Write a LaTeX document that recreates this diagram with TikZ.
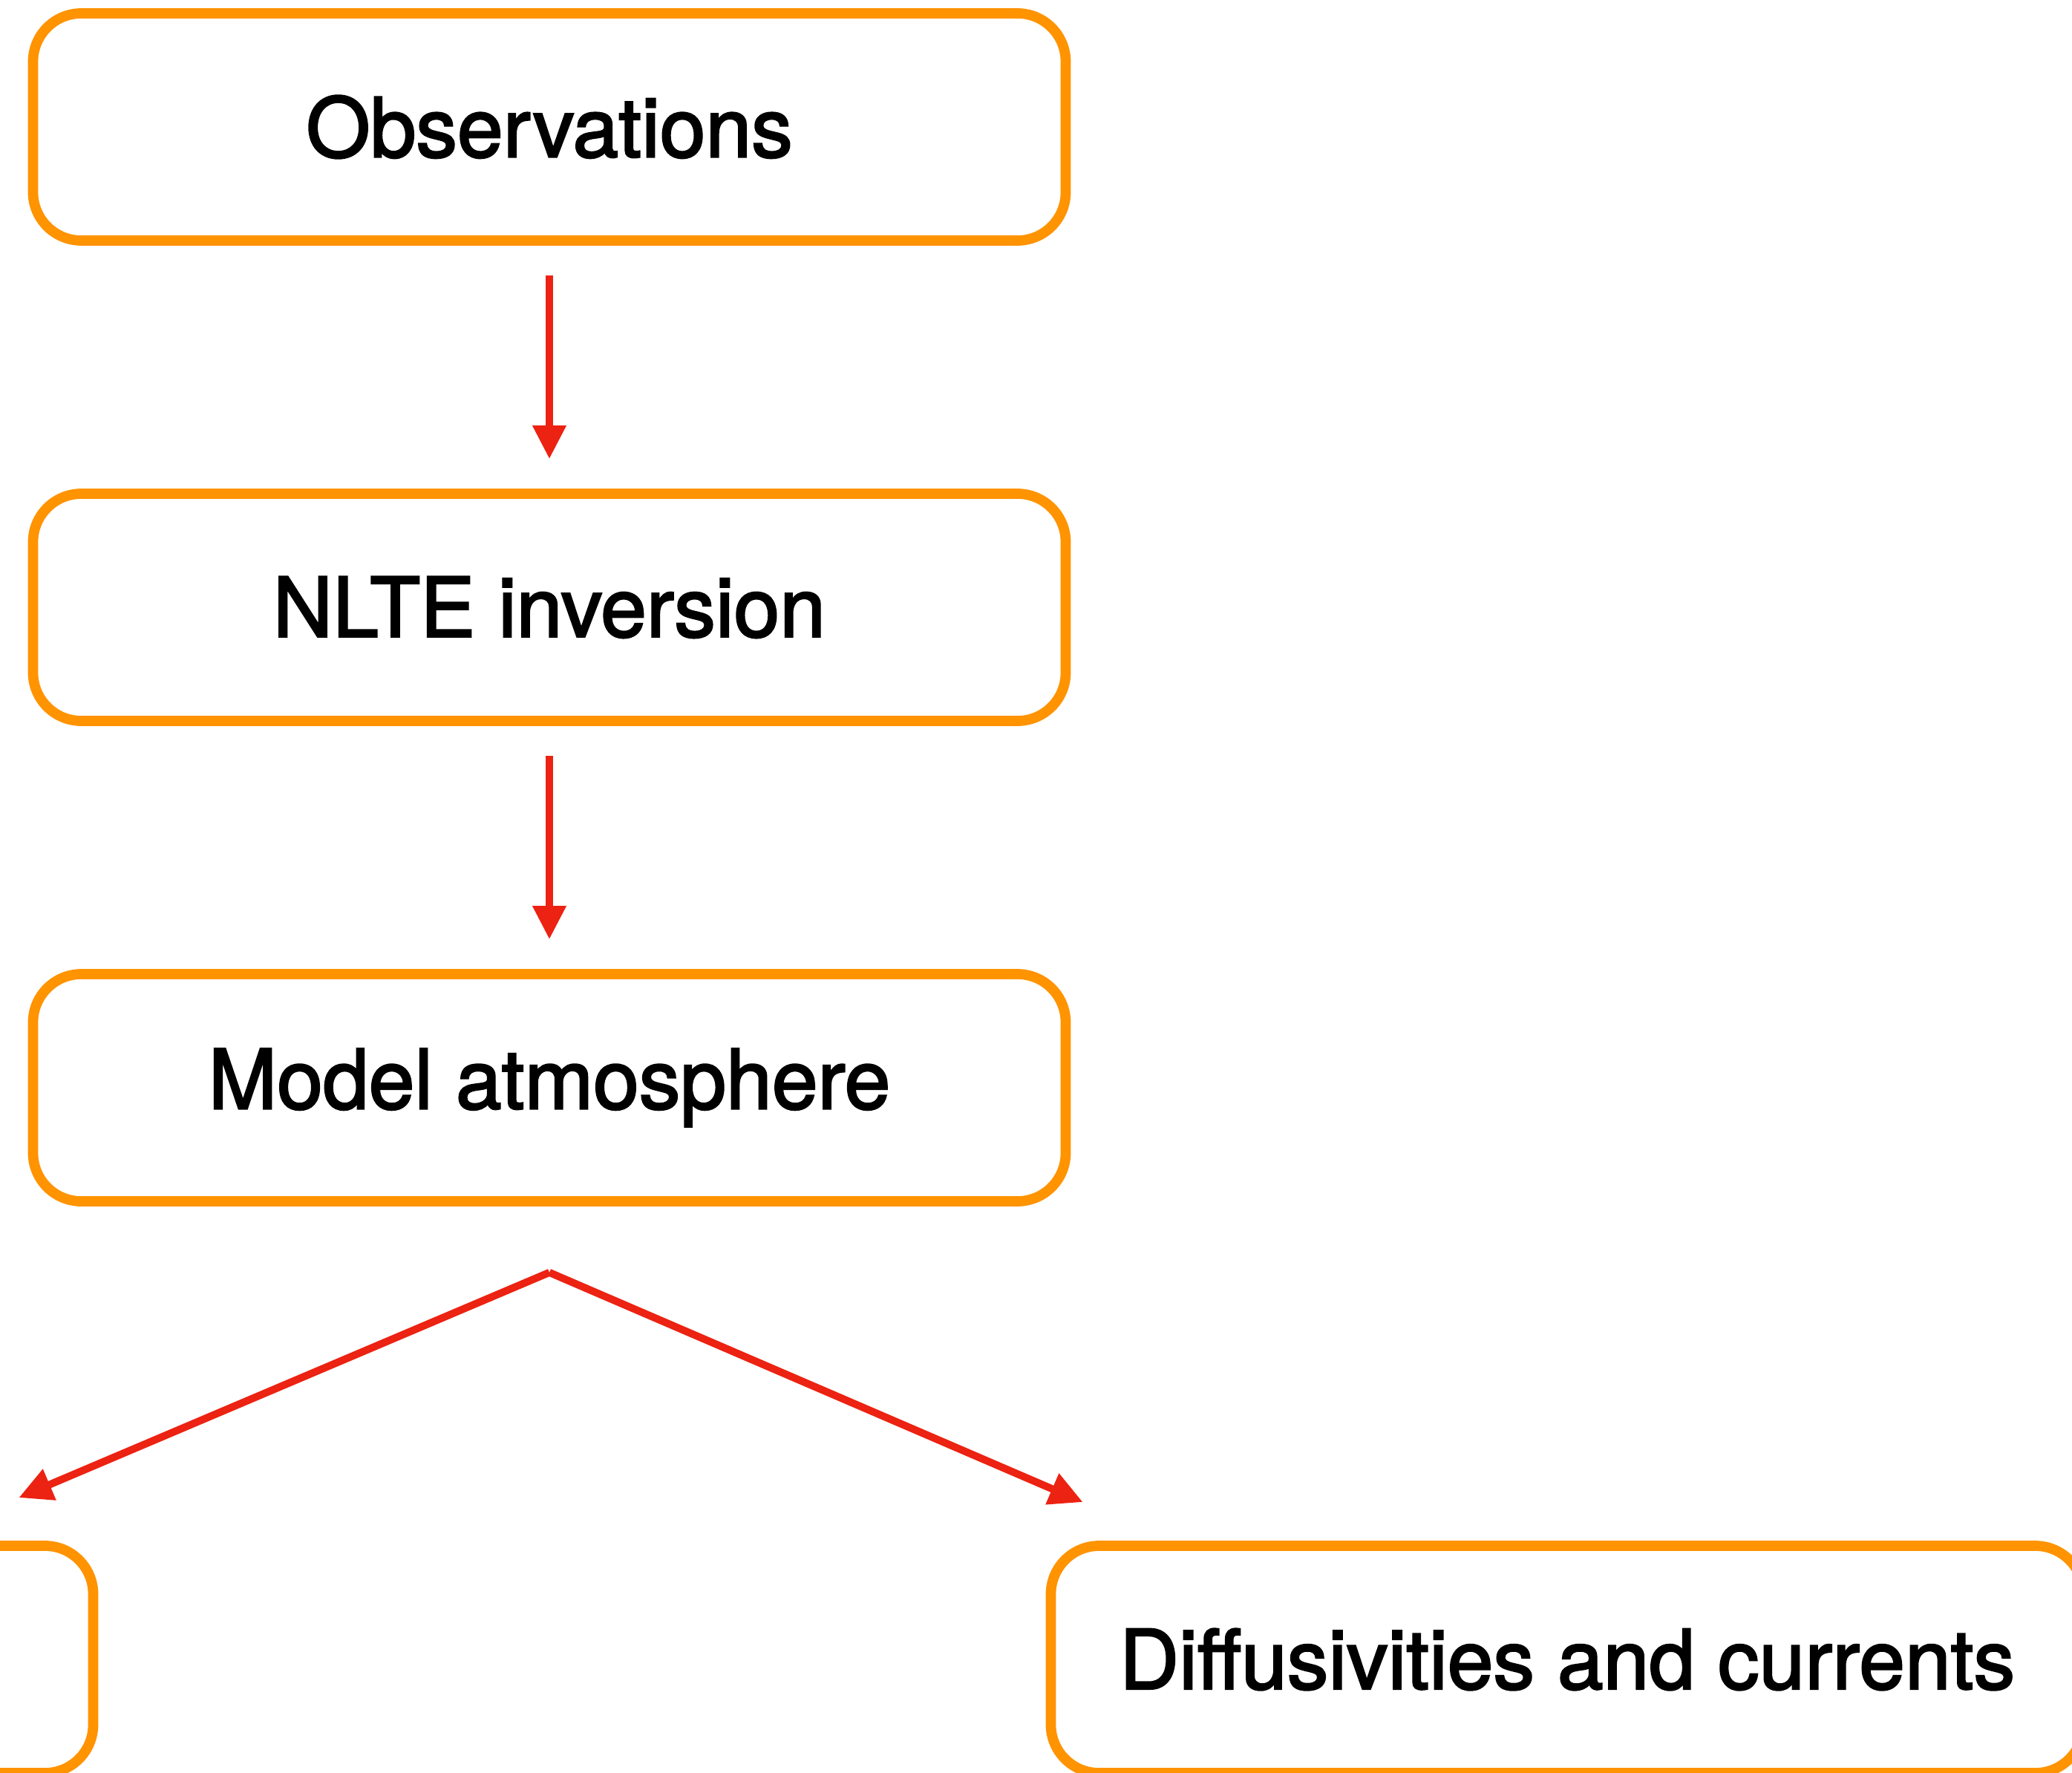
\documentclass[tikz,border=0pt]{standalone}
\usepackage{fontspec}
\setmainfont{TeX Gyre Heros}
\newfontfamily\stagefont[FakeBold=2.2]{TeX Gyre Heros}
\usepackage{tikz}
\usetikzlibrary{arrows.meta}
\definecolor{boxorange}{RGB}{255, 147, 0}
\definecolor{flowred}{RGB}{236, 34, 18}

\begin{document}
\begin{tikzpicture}[
    stagebox/.style={draw=boxorange, line width=3.9pt, rounded corners=0.65cm, minimum width=13.91cm, minimum height=3.06cm, inner sep=0pt, font=\stagefont\fontsize{31.6}{38}\selectfont},
    flow/.style={draw=flowred, line width=2.85pt, -{Triangle[length=0.45cm,width=0.43cm]}}]
    \useasboundingbox (0,0) rectangle (27.91,-23.88);
    \begin{scope}
        \clip (0,0) rectangle (27.91,-23.88);
        \node[stagebox] (obs) at (7.40,-1.71) {Observations};
        \node[stagebox] (nlte) at (7.40,-8.18) {NLTE inversion};
        \node[stagebox] (model) at (7.40,-14.65) {Model atmosphere};
        \node[stagebox] (left) at (-5.70,-22.35) {};
        \node[stagebox] (diff) at (21.11,-22.35) {Diffusivities and currents};
        \coordinate (fork) at ([yshift=-0.89cm]model.south);
        \coordinate (ltip) at ([xshift=-1.07cm,yshift=0.58cm]left.north east);
        \coordinate (rtip) at ([xshift=0.50cm,yshift=0.52cm]diff.north west);
        \draw[flow, shorten <=0.40cm, shorten >=0.40cm] (obs.south) -- (nlte.north);
        \draw[flow, shorten <=0.40cm, shorten >=0.40cm] (nlte.south) -- (model.north);
        \draw[flow] (fork) -- (ltip);
        \draw[flow] (fork) -- (rtip);
    \end{scope}
\end{tikzpicture}
\end{document}
